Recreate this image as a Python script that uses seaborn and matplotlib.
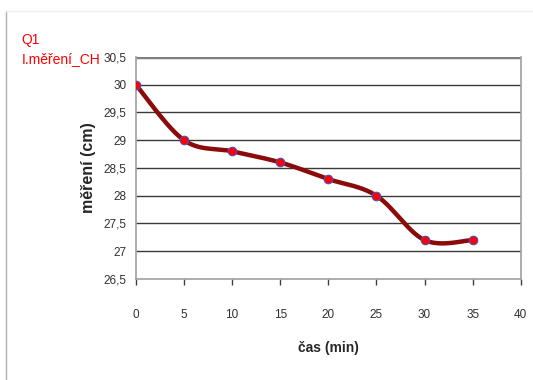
import numpy as np
import pandas as pd
import matplotlib
matplotlib.use("Agg")
import matplotlib.pyplot as plt
import seaborn as sns
from matplotlib.lines import Line2D

cas = [0, 5, 10, 15, 20, 25, 30, 35]
mereni = [30.0, 29.0, 28.8, 28.6, 28.3, 28.0, 27.2, 27.2]
yticks = [26.5, 27, 27.5, 28, 28.5, 29, 29.5, 30, 30.5]
ytick_labels = ["26,5", "27", "27,5", "28", "28,5", "29", "29,5", "30", "30,5"]
xticks = [0, 5, 10, 15, 20, 25, 30, 35, 40]

sns.set_theme(style="white")
plt.rcParams['font.family'] = ['Liberation Sans', 'DejaVu Sans']

df = pd.DataFrame({"cas": cas, "mereni": mereni})

fig = plt.figure(figsize=(5.33, 3.8), dpi=100)
ax = fig.add_axes([0.255, 0.266, 0.722, 0.584])

# smooth curve (Catmull-Rom style, like Excel's smoothed line)
def smooth(xs, ys, n=30):
    xs = np.asarray(xs, float); ys = np.asarray(ys, float)
    px = np.concatenate([[xs[0]], xs, [xs[-1]]])
    py = np.concatenate([[ys[0]], ys, [ys[-1]]])
    outx, outy = [], []
    for i in range(1, len(px) - 2):
        p0 = np.array([px[i-1], py[i-1]]); p1 = np.array([px[i], py[i]])
        p2 = np.array([px[i+1], py[i+1]]); p3 = np.array([px[i+2], py[i+2]])
        c1 = p1 + (p2 - p0) / 6.0
        c2 = p2 - (p3 - p1) / 6.0
        s = np.linspace(0, 1, n)[:, None]
        pts = (1-s)**3*p1 + 3*(1-s)**2*s*c1 + 3*(1-s)*s**2*c2 + s**3*p2
        outx.extend(pts[:, 0]); outy.extend(pts[:, 1])
    return outx, outy

sx, sy = smooth(df["cas"], df["mereni"])
ax.plot(sx, sy, color="#8B0A0A", lw=3.2, solid_capstyle="round", zorder=3)
sns.scatterplot(data=df, x="cas", y="mereni", ax=ax, color="#FF0000",
                edgecolor="#5050C0", linewidth=0.8, s=38, zorder=4, legend=False)

ax.set_xlim(0, 40)
ax.set_ylim(26.5, 30.5)
ax.set_yticks(yticks)
ax.set_yticklabels(ytick_labels)
ax.set_xticks(xticks)
for y in yticks[1:-1]:
    ax.axhline(y, color="#3a3a3a", lw=1.0, zorder=1)
ax.axhline(30.5, color="#808080", lw=2.5, zorder=1)

for side in ["left", "right", "bottom"]:
    ax.spines[side].set_color("#a0a0a0")
    ax.spines[side].set_linewidth(1.2)
ax.spines["top"].set_visible(False)

ax.tick_params(axis="x", direction="out", length=4, width=1, color="#404040",
               pad=18, labelsize=8.5, labelcolor="#303030", bottom=True)
ax.tick_params(axis="y", length=0, pad=7, labelsize=8.5, labelcolor="#303030")

ax.set_xlabel("čas (min)", fontsize=10, fontweight="bold", labelpad=14)
ax.set_ylabel("měření (cm)", fontsize=11.5, fontweight="bold", labelpad=5)

fig.text(0.04, 0.885, "Q1", color="#FF0000", fontsize=10)
fig.text(0.04, 0.835, "I.měření_CH", color="#FF0000", fontsize=10)

fig.add_artist(Line2D([0.011, 0.011], [0.0, 0.97], transform=fig.transFigure,
                      color="#b0b0b0", lw=1))
fig.add_artist(Line2D([0.011, 1.0], [0.97, 0.97], transform=fig.transFigure,
                      color="#eeeeee", lw=1))

fig.savefig("out.png", dpi=100)
